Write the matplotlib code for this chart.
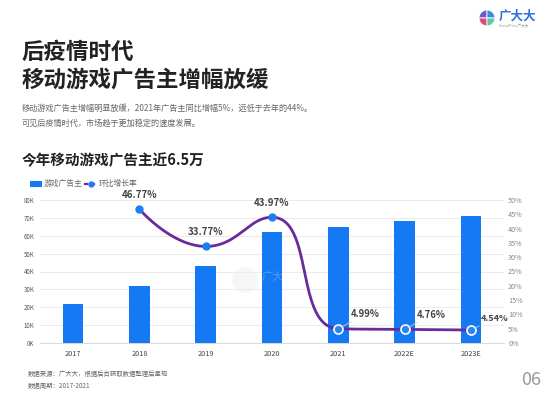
import numpy as np
import matplotlib
matplotlib.use("Agg")
import matplotlib.pyplot as plt
from matplotlib.patches import Wedge, Circle, Rectangle
from matplotlib.lines import Line2D

plt.rcParams['font.family'] = ['Noto Sans CJK SC', 'DejaVu Sans']

# ---------------- data ----------------
categories = ["2017", "2018", "2019", "2020", "2021", "2022E", "2023E"]
advertisers = [22000, 32000, 43000, 62000, 65000, 68000, 71000]
growth_cats_idx = [1, 2, 3, 4, 5, 6]
growth_rate = [46.77, 33.77, 43.97, 4.99, 4.76, 4.54]
growth_labels = ["46.77%", "33.77%", "43.97%", "4.99%", "4.76%", "4.54%"]
left_ticks = [0, 10000, 20000, 30000, 40000, 50000, 60000, 70000, 80000]
left_ticklabels = ["0K", "10K", "20K", "30K", "40K", "50K", "60K", "70K", "80K"]
right_ticks = [0, 5, 10, 15, 20, 25, 30, 35, 40, 45, 50]
right_ticklabels = ["0%", "5%", "10%", "15%", "20%", "25%", "30%", "35%", "40%", "45%", "50%"]

BLUE = "#1479f2"
PURPLE = "#6a2a9c"
W, H = 554, 397

fig = plt.figure(figsize=(W / 100, H / 100), dpi=100)
fig.patch.set_facecolor("white")


def fx(px):
    return px / W


def fy(py):
    return 1 - py / H


# ---------------- header texts ----------------
fig.text(fx(22), fy(52), "后疫情时代", fontsize=16.2, fontweight="bold", color="#222222", va="center", ha="left")
fig.text(fx(22), fy(80), "移动游戏广告主增幅放缓", fontsize=16.2, fontweight="bold", color="#222222", va="center", ha="left")
fig.text(fx(22), fy(108), "移动游戏广告主增幅明显放缓，2021年广告主同比增幅5%，远低于去年的44%。",
         fontsize=5.9, color="#666666", va="center", ha="left")
fig.text(fx(22), fy(123), "可见后疫情时代，市场趋于更加稳定的速度发展。",
         fontsize=5.9, color="#666666", va="center", ha="left")
fig.text(fx(22), fy(160), "今年移动游戏广告主近6.5万", fontsize=10.5, fontweight="bold", color="#222222",
         va="center", ha="left")

# footer
fig.text(fx(28), fy(374), "数据来源：广大大，根据后台获取数据整理后呈现", fontsize=4.6, color="#666666", va="center")
fig.text(fx(28), fy(386), "数据周期：2017-2021", fontsize=4.6, color="#666666", va="center")
fig.text(fx(541), fy(380), "06", fontsize=13, color="#9a9a9a", va="center", ha="right")

# ---------------- logo ----------------
lax = fig.add_axes([fx(479), fy(26), fx(16), 16 / H])
lax.set_xlim(-1, 1)
lax.set_ylim(-1, 1)
lax.set_aspect("equal")
lax.axis("off")
for (t1, t2, c) in [(90, 180, "#6a5cc8"), (0, 90, "#3d8be0"), (180, 270, "#e2497c"), (270, 360, "#5cc8ad")]:
    lax.add_patch(Wedge((0, 0), 1, t1, t2, facecolor=c, edgecolor="white", linewidth=0.6))
fig.text(fx(499), fy(16), "广大大", fontsize=9, fontweight="bold", color="#2f6fe0", va="center", ha="left")
fig.text(fx(499), fy(26), "SocialPeta 广大大", fontsize=2.6, color="#999999", va="center", ha="left")

# ---------------- watermark (behind chart) ----------------
wm = fig.add_axes([fx(232), fy(293), fx(26), 26 / H])
wm.set_xlim(-1, 1)
wm.set_ylim(-1, 1)
wm.set_aspect("equal")
wm.axis("off")
wm.add_patch(Circle((0, 0), 1, facecolor="#f6f6f6", edgecolor="none"))
fig.text(fx(262), fy(277), "广大大", fontsize=8, color="white", alpha=0.25, va="center", ha="left")

# ---------------- chart ----------------
ax = fig.add_axes([fx(40), fy(343), fx(504) - fx(40), 143 / H])
ax.patch.set_alpha(0)
ax2 = ax.twinx()

x = np.arange(len(categories))
ax.bar(x, advertisers, width=0.31, color=BLUE, zorder=3)
ax.set_xlim(-0.5, len(categories) - 0.5)
ax.set_ylim(0, 80000)
ax.set_yticks(left_ticks)
ax.set_yticklabels(left_ticklabels)
ax.set_xticks(x)
ax.set_xticklabels(categories)
ax.grid(axis="y", color="#ebebeb", linewidth=0.7, zorder=0)
ax.set_axisbelow(True)
for s in ["top", "right", "left"]:
    ax.spines[s].set_visible(False)
ax.spines["bottom"].set_color("#d8d8d8")
ax.spines["bottom"].set_linewidth(0.7)
ax.tick_params(axis="y", length=0, labelsize=4.4, labelcolor="#555555", pad=4)
ax.tick_params(axis="x", length=0, labelsize=5.3, labelcolor="#444444", pad=5)

ax2.set_ylim(0, 50)
ax2.set_yticks(right_ticks)
ax2.set_yticklabels(right_ticklabels)
for s in ["top", "right", "left", "bottom"]:
    ax2.spines[s].set_visible(False)
ax2.tick_params(axis="y", length=0, labelsize=5.2, labelcolor="#888888", pad=3)


# ---------------- smooth line (ECharts style bezier) ----------------
def echarts_smooth(xs, ys, sx, sy, smooth=0.5, n=60):
    P = [(xi * sx, yi * sy) for xi, yi in zip(xs, ys)]
    segs = []
    cp0 = P[0]
    m = len(P)
    for i in range(1, m):
        prevX, prevY = P[i - 1]
        X, Y = P[i]
        if i + 1 >= m:
            cp1 = (X, Y)
            nxt = (X, Y)
        else:
            nX, nY = P[i + 1]
            vx, vy = nX - prevX, nY - prevY
            lp = np.hypot(X - prevX, Y - prevY)
            ln = np.hypot(nX - X, nY - Y)
            r = ln / (ln + lp)
            ncx = X + vx * smooth * r
            ncy = Y + vy * smooth * r
            ncx = min(ncx, max(nX, X)); ncy = min(ncy, max(nY, Y))
            ncx = max(ncx, min(nX, X)); ncy = max(ncy, min(nY, Y))
            vx, vy = ncx - X, ncy - Y
            c1x = X - vx * lp / ln
            c1y = Y - vy * lp / ln
            c1x = min(c1x, max(prevX, X)); c1y = min(c1y, max(prevY, Y))
            c1x = max(c1x, min(prevX, X)); c1y = max(c1y, min(prevY, Y))
            vx, vy = X - c1x, Y - c1y
            ncx = X + vx * ln / lp
            ncy = Y + vy * ln / lp
            cp1 = (c1x, c1y)
            nxt = (ncx, ncy)
        segs.append(((prevX, prevY), cp0, cp1, (X, Y)))
        cp0 = nxt
    t = np.linspace(0, 1, n)[:, None]
    out = []
    for p0, c0, c1, p1 in segs:
        p0, c0, c1, p1 = map(np.array, (p0, c0, c1, p1))
        b = ((1 - t) ** 3) * p0 + 3 * ((1 - t) ** 2) * t * c0 + 3 * (1 - t) * t ** 2 * c1 + t ** 3 * p1
        out.append(b)
    pts = np.vstack(out)
    return pts[:, 0] / sx, pts[:, 1] / sy


sx_, sy_ = ax.transData.transform((1, 0))[0] - ax.transData.transform((0, 0))[0], \
    ax2.transData.transform((0, 1))[1] - ax2.transData.transform((0, 0))[1]
lx, ly = echarts_smooth(growth_cats_idx, growth_rate, sx_, sy_)
ax2.plot(lx, ly, color=PURPLE, linewidth=2.0, zorder=4, solid_capstyle="round")
ax2.plot(growth_cats_idx[:3], growth_rate[:3], linestyle="none", marker="o", markersize=5,
         markerfacecolor="#1a7ff5", markeredgecolor="#1a7ff5", zorder=5)
ax2.plot(growth_cats_idx[3:], growth_rate[3:], linestyle="none", marker="o", markersize=6.5,
         markerfacecolor="#2a86f5", markeredgecolor="white", markeredgewidth=1.2, zorder=5)

for i in range(3):
    ax2.annotate(growth_labels[i], (growth_cats_idx[i], growth_rate[i]), xytext=(0, 7),
                 textcoords="offset points", ha="center", va="bottom", fontsize=7, fontweight="bold",
                 color="#444444", zorder=6, annotation_clip=False)
for i in range(3, 6):
    off = (9, 7) if i < 5 else (7, 5)
    fs = 6.8 if i < 5 else 6.5
    ax2.annotate(growth_labels[i], (growth_cats_idx[i], growth_rate[i]), xytext=off,
                 textcoords="offset points", ha="left", va="bottom", fontsize=fs, fontweight="bold",
                 color="#444444", zorder=6, annotation_clip=False,
                 arrowprops=dict(arrowstyle="-", color="#cccccc", linewidth=0.6, shrinkA=0, shrinkB=3))

# ---------------- legend ----------------
fig.patches.append(Rectangle((fx(30), fy(187)), fx(12), 6 / H, transform=fig.transFigure,
                             facecolor=BLUE, edgecolor="none"))
fig.text(fx(44), fy(184), "游戏广告主", fontsize=5.6, color="#666666", va="center", ha="left")
fig.lines.append(Line2D([fx(84), fx(97)], [fy(184), fy(184)], transform=fig.transFigure,
                        color=PURPLE, linewidth=1.6, linestyle=(0, (2, 1))))
fig.lines.append(Line2D([fx(90.5)], [fy(184)], transform=fig.transFigure, marker="o",
                        markersize=3.5, color="#1a7ff5", linestyle="none"))
fig.text(fx(99), fy(184), "环比增长率", fontsize=5.6, color="#666666", va="center", ha="left")

fig.savefig("out.png", dpi=100)
